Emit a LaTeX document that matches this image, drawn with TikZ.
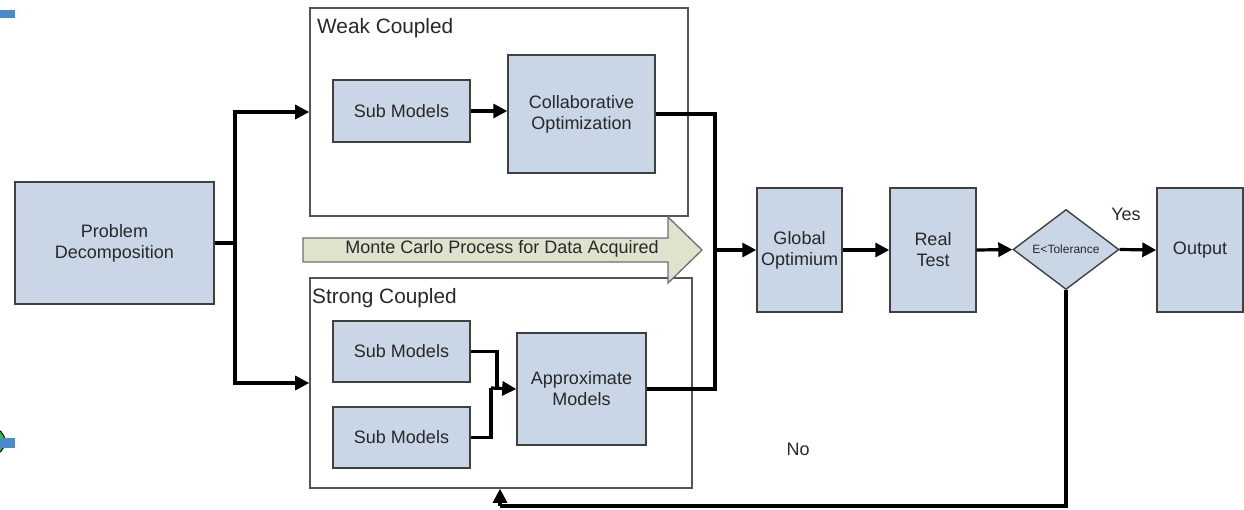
\documentclass[tikz,border=0pt]{standalone}
\usepackage{fontspec}
\setmainfont{Liberation Sans}
\usetikzlibrary{arrows.meta,shapes.geometric}

\definecolor{boxfill}{RGB}{200,214,230}
\definecolor{boxline}{RGB}{64,64,64}
\definecolor{frameline}{RGB}{85,85,85}
\definecolor{txt}{RGB}{40,40,40}
\definecolor{mcfill}{RGB}{221,227,205}
\definecolor{mcline}{RGB}{110,110,110}
\definecolor{markblue}{RGB}{74,139,201}
\definecolor{markgreen}{RGB}{40,200,40}

\tikzset{
  block/.style={draw=boxline, line width=1.4pt, fill=boxfill, text=txt,
    align=center, inner sep=2pt,
    font=\fontsize{18}{21}\selectfont},
  frame/.style={draw=frameline, line width=1.6pt, fill=white},
  framelabel/.style={anchor=west, inner sep=0pt, text=txt,
    font=\fontsize{20.8}{24}\selectfont},
  conn/.style={line width=3.2pt, black},
  arr/.style={-{Triangle[length=14pt,width=14pt]}},
  plain/.style={text=txt, inner sep=0pt, font=\fontsize{18}{21}\selectfont},
}

\begin{document}
\begin{tikzpicture}[x=1pt, y=-1pt]
\useasboundingbox (0,0) rectangle (1244,509);

% page marks at the left edge
\fill[markblue] (0,9.5) rectangle (15,17.5);
\draw[black, line width=1pt, fill=markgreen] (-9,441.5) circle (14pt);
\fill[markblue] (0,437.5) rectangle (15,447.5);

% grouping frames
\node[frame, minimum width=378pt, minimum height=208pt] (weak) at (499,112) {};
\node[frame, minimum width=382pt, minimum height=210pt] (strong) at (501,383) {};
\node[framelabel] (weaklbl) at (317,28) {Weak Coupled};
\node[framelabel] (stronglbl) at (312,298) {Strong Coupled};

% Monte Carlo band arrow
\draw[draw=mcline, line width=1.3pt, fill=mcfill]
  (303,238) -- (668,238) -- (668,217) -- (702,250) -- (668,283)
  -- (668,262) -- (303,262) -- cycle;
\node[plain] (mc) at (502,249) {Monte Carlo Process for Data Acquired};

% blocks
\node[block, minimum width=199pt, minimum height=122pt] (prob) at (114.5,243) {Problem\\Decomposition};
\node[block, minimum width=137pt, minimum height=62pt] (subA) at (401.5,111) {Sub Models};
\node[block, minimum width=147pt, minimum height=118pt] (collab) at (581.5,114) {Collaborative\\Optimization};
\node[block, minimum width=137pt, minimum height=61pt] (subB) at (401.5,351.5) {Sub Models};
\node[block, minimum width=137pt, minimum height=61pt] (subC) at (401.5,437.5) {Sub Models};
\node[block, minimum width=129pt, minimum height=112pt] (approx) at (581.5,389) {Approximate\\Models};
\node[block, minimum width=85pt, minimum height=124pt] (glob) at (799.5,250) {Global\\Optimium};
\node[block, minimum width=86pt, minimum height=124pt] (real) at (933,250) {Real\\Test};
\node[block, diamond, shape aspect=1.325, inner sep=0pt,
      minimum width=106pt, minimum height=80pt,
      font=\fontsize{12}{14}\selectfont] (dia) at (1066,249.5) {E<Tolerance};
\node[block, minimum width=86pt, minimum height=124pt] (out) at (1200,250) {Output};

% junction points
\coordinate (split) at (235,243);
\coordinate (merge) at (715,250);
\coordinate (jB) at (497,388);
\coordinate (jC) at (491,388);
\coordinate (fbturn) at (500,506);

% connectors
\draw[conn] (prob.east) -- (split);
\draw[conn, arr] (split) |- (weak.west);
\draw[conn, arr] (split) |- (strong.west);
\draw[conn, arr] (subA.east) -- (subA.east -| collab.west);
\draw[conn] (collab.east) -| (merge);
\draw[conn] (approx.east) -| (merge);
\draw[conn, arr] (merge) -- (glob.west);
\draw[conn] (subB.east) -| (jB);
\draw[conn] (subC.east) -| (jC);
\draw[conn, arr] (jC) -- (approx.west);
\draw[conn, arr] (glob.east) -- (real.west);
\draw[conn, arr] (real.east) -- (dia.west);
\draw[conn, arr] (dia.east) -- (out.west);
\draw[conn] (dia.south) |- (fbturn);
\draw[conn, arr] (fbturn) -- (fbturn |- strong.south);

% branch labels
\node[plain] (yes) at (1126,214) {Yes};
\node[plain] (no) at (798,449) {No};
\end{tikzpicture}
\end{document}
